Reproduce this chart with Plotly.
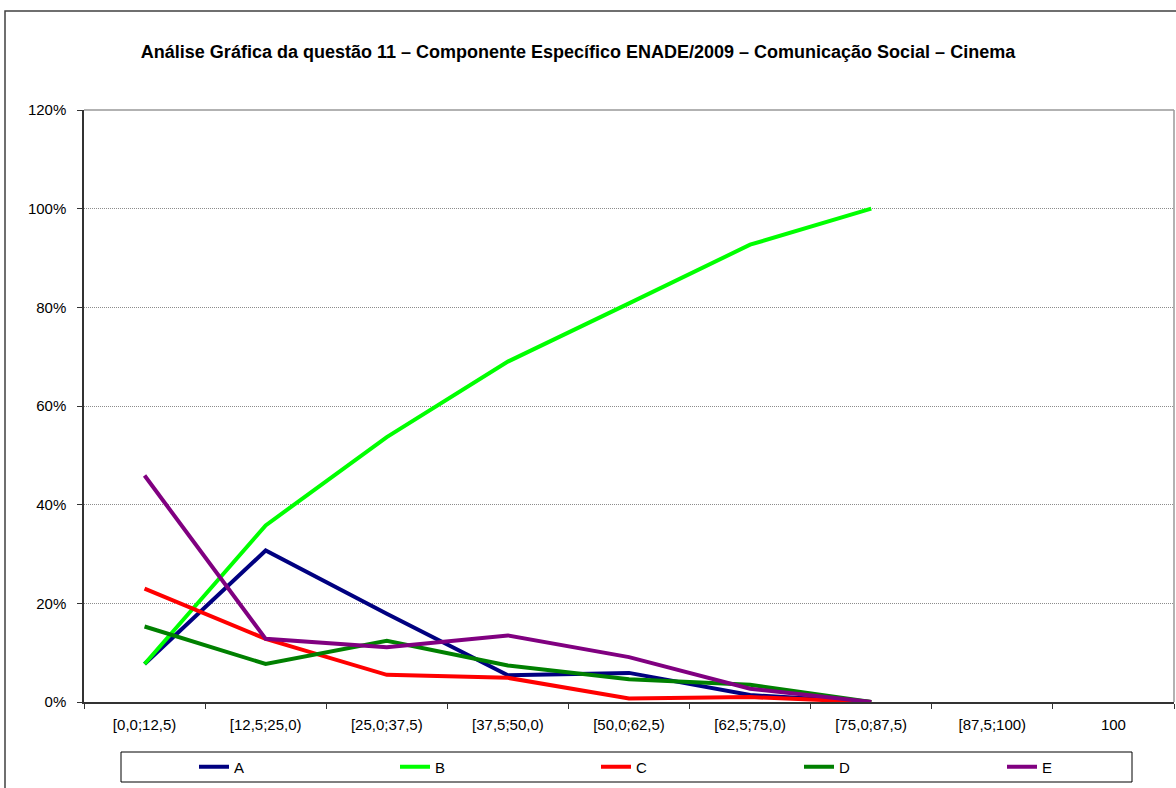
import plotly.graph_objects as go

# faixas de acerto (categorias do eixo x)
faixas = ["[0,0;12,5)", "[12,5;25,0)", "[25,0;37,5)", "[37,5;50,0)", "[50,0;62,5)",
          "[62,5;75,0)", "[75,0;87,5)", "[87,5;100)", "100"]

# percentual de escolha de cada alternativa por faixa
alt_a = [0.077, 0.307, 0.179, 0.054, 0.059, 0.014, 0.0, None, None]
alt_b = [0.077, 0.358, 0.537, 0.690, 0.808, 0.927, 1.0, None, None]
alt_c = [0.230, 0.128, 0.055, 0.049, 0.007, 0.010, 0.0, None, None]
alt_d = [0.153, 0.077, 0.124, 0.074, 0.046, 0.035, 0.0, None, None]
alt_e = [0.459, 0.128, 0.111, 0.135, 0.091, 0.027, 0.0, None, None]

series = [("A", alt_a, "#000080"), ("B", alt_b, "#00FF00"), ("C", alt_c, "#FF0000"),
          ("D", alt_d, "#008000"), ("E", alt_e, "#800080")]

FONT = "Liberation Sans, Arial, sans-serif"
W, H = 1176, 788
ML, MR, MT, MB = 84, 2, 110, 86
PW, PH = W - ML - MR, H - MT - MB


def px_x(px):
    return (px - ML) / PW


def px_y(py):
    return (H - MB - py) / PH


# uma legenda por série, lado a lado na caixa inferior
leg_x = [199, 400, 601, 804, 1007]

fig = go.Figure()
legends = {}
for i, (name, vals, color) in enumerate(series):
    key = "legend" if i == 0 else f"legend{i + 1}"
    fig.add_trace(go.Scatter(x=faixas, y=vals, name=name, mode="lines", legend=key,
                             line=dict(color=color, width=4)))
    legends[key] = dict(x=px_x(leg_x[i] - 5), xanchor="left", y=px_y(767), yanchor="middle",
                        bgcolor="rgba(0,0,0,0)", borderwidth=0,
                        font=dict(size=15, family=FONT, color="black"))

fig.update_layout(
    width=W, height=H,
    paper_bgcolor="white", plot_bgcolor="white",
    font=dict(family=FONT, size=15, color="black"),
    margin=dict(l=ML, r=MR, t=MT, b=MB),
    title=dict(text="<b>Análise Gráfica da questão 11 – Componente Específico ENADE/2009 – Comunicação Social – Cinema</b>",
               font=dict(size=18, family=FONT, color="black"),
               x=578 / W, xanchor="center", y=1 - 52 / H, yanchor="middle"),
    showlegend=True,
    shapes=[
        # borda externa do gráfico
        dict(type="rect", xref="paper", yref="paper", x0=px_x(5), x1=px_x(1190),
             y0=px_y(800), y1=px_y(11),
             line=dict(color="#404040", width=1.5), layer="below"),
        # borda da área de plotagem (topo e direita)
        dict(type="line", xref="paper", yref="paper", x0=0, x1=1, y0=1, y1=1,
             line=dict(color="#999999", width=1.5)),
        dict(type="line", xref="paper", yref="paper", x0=1, x1=1, y0=0, y1=1,
             line=dict(color="#999999", width=1.5)),
        # caixa da legenda
        dict(type="rect", xref="paper", yref="paper", x0=px_x(121), x1=px_x(1132),
             y0=px_y(782), y1=px_y(752),
             line=dict(color="black", width=1)),
    ],
    **legends,
)
fig.update_xaxes(type="category", range=[-0.5, 8.5], showgrid=False, zeroline=False,
                 showline=True, linecolor="#333333", linewidth=1.5,
                 ticks="outside", ticklen=5, tickcolor="#333333", tickson="boundaries",
                 ticklabelstandoff=8,
                 tickfont=dict(size=15, family=FONT, color="black"))
fig.update_yaxes(range=[0, 1.2], dtick=0.2, tickformat=".0%", zeroline=False,
                 showgrid=True, gridcolor="#8c8c8c", gridwidth=1, griddash="1px,1px",
                 showline=True, linecolor="#333333", linewidth=1.5,
                 ticks="outside", ticklen=5, tickcolor="#333333", ticklabelstandoff=8,
                 tickfont=dict(size=15, family=FONT, color="black"))

fig.write_html("out.html", config={"displayModeBar": False},
               post_script="document.body.style.margin='0';")
